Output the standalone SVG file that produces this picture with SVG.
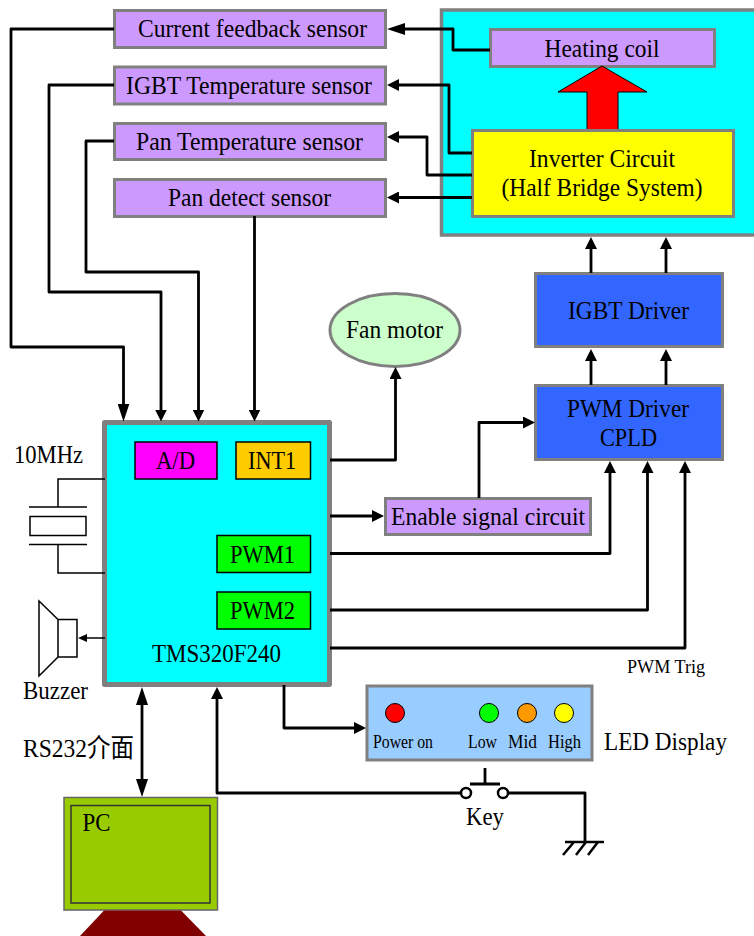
<svg xmlns="http://www.w3.org/2000/svg" width="754" height="936" viewBox="0 0 754 936">
<style>
text{font-family:"Liberation Serif","Noto Sans CJK TC",serif;fill:#000;text-anchor:middle;font-size:26px}
.s{font-size:18px}
.box{stroke:#808080;stroke-width:3}
.pur{fill:#cc99ff}
.blue{fill:#3366ff}
.in{stroke:#000;stroke-width:1.5}
.w{fill:none;stroke:#000;stroke-width:2.8;stroke-linejoin:round}
.t{fill:none;stroke:#000;stroke-width:1.5}
.led{stroke:#000;stroke-width:1}
</style>
<defs>
<marker id="a" markerUnits="userSpaceOnUse" markerWidth="12" markerHeight="12" refX="4" refY="6" orient="auto-start-reverse"><path d="M0 0L12 6L0 12Z" fill="#000"/></marker>
<marker id="b" markerUnits="userSpaceOnUse" markerWidth="18" markerHeight="12" refX="4" refY="6" orient="auto-start-reverse"><path d="M0 0L18 6L0 12Z" fill="#000"/></marker>
<marker id="c" markerUnits="userSpaceOnUse" markerWidth="10" markerHeight="10" refX="2" refY="5" orient="auto"><path d="M0 1L9 5L0 9Z" fill="#000"/></marker>
</defs>
<g id="power-stage"><rect x="441.5" y="10" width="330" height="225" fill="#00ffff" stroke="#808080" stroke-width="3.5"/></g>
<g id="heating-coil"><rect class="box pur" x="490.5" y="29.5" width="224" height="37"/><text x="602" y="57" textLength="115" lengthAdjust="spacingAndGlyphs">Heating coil</text></g>
<g id="heat-arrow"><path d="M587 131V92H558L602 66L647 92H618V131Z" fill="#ff0000" stroke="#000" stroke-width="1"/></g>
<g id="inverter"><rect class="box" x="472.5" y="130.5" width="261" height="86" fill="#ffff00"/><text x="602" y="167" textLength="146" lengthAdjust="spacingAndGlyphs">Inverter Circuit</text><text x="602" y="196" textLength="201" lengthAdjust="spacingAndGlyphs">(Half Bridge System)</text></g>
<g id="current-sensor"><rect class="box pur" x="114.5" y="10.5" width="271" height="37"/><text x="252.5" y="37" textLength="229" lengthAdjust="spacingAndGlyphs">Current feedback sensor</text></g>
<g id="igbt-sensor"><rect class="box pur" x="114.5" y="67" width="271" height="37"/><text x="249" y="94" textLength="246" lengthAdjust="spacingAndGlyphs">IGBT Temperature sensor</text></g>
<g id="pan-sensor"><rect class="box pur" x="114.5" y="123.5" width="271" height="36"/><text x="249.5" y="150" textLength="227" lengthAdjust="spacingAndGlyphs">Pan Temperature sensor</text></g>
<g id="pan-detect"><rect class="box pur" x="114.5" y="179.5" width="271" height="37"/><text x="249.5" y="206" textLength="163" lengthAdjust="spacingAndGlyphs">Pan detect sensor</text></g>
<g id="igbt-driver"><rect class="box blue" x="535.5" y="273.5" width="187" height="73"/><text x="628.5" y="319" textLength="121" lengthAdjust="spacingAndGlyphs">IGBT Driver</text></g>
<g id="pwm-driver"><rect class="box blue" x="535.5" y="385.5" width="187" height="74"/><text x="628" y="417" textLength="122" lengthAdjust="spacingAndGlyphs">PWM Driver</text><text x="628.5" y="446" textLength="57" lengthAdjust="spacingAndGlyphs">CPLD</text></g>
<g id="fan"><ellipse cx="395" cy="330" rx="65" ry="36.5" fill="#ccffcc" stroke="#808080" stroke-width="3"/><text x="394.5" y="338" textLength="97" lengthAdjust="spacingAndGlyphs">Fan motor</text></g>
<g id="enable"><rect class="box pur" x="385.5" y="498.5" width="205" height="36"/><text x="488" y="525" textLength="194" lengthAdjust="spacingAndGlyphs">Enable signal circuit</text></g>
<g id="mcu"><rect x="104.5" y="422.5" width="225" height="262" fill="#00ffff" stroke="#808080" stroke-width="5" stroke-linejoin="round"/>
<text x="216.5" y="662" textLength="129" lengthAdjust="spacingAndGlyphs">TMS320F240</text></g>
<g id="ad"><rect class="in" x="135" y="442" width="82" height="37" fill="#ff00ff"/><text x="175.5" y="469" textLength="39" lengthAdjust="spacingAndGlyphs">A/D</text></g>
<g id="int1"><rect class="in" x="236" y="442" width="74.500" height="37" fill="#ffcc00"/><text x="272" y="469" textLength="48" lengthAdjust="spacingAndGlyphs">INT1</text></g>
<g id="pwm1"><rect class="in" x="217" y="535.500" width="93.500" height="37" fill="#00ff00"/><text x="262.5" y="563" textLength="65" lengthAdjust="spacingAndGlyphs">PWM1</text></g>
<g id="pwm2"><rect class="in" x="217" y="592" width="93.500" height="37" fill="#00ff00"/><text x="262.5" y="619" textLength="65" lengthAdjust="spacingAndGlyphs">PWM2</text></g>
<g id="crystal"><text x="48.500" y="463" textLength="69" lengthAdjust="spacingAndGlyphs">10MHz</text><rect class="t" x="30" y="516.500" width="56" height="19"/><path class="t" d="M105 479H58V507M29 507H87M29 544.500H87M58 544.500V573H105"/></g>
<g id="buzzer"><path class="t" d="M58 619.500H77V657H58ZM58 619.500L39 601V676L58 657"/><text x="55.500" y="699" textLength="65" lengthAdjust="spacingAndGlyphs">Buzzer</text></g>
<g id="led-display"><rect class="box" x="367" y="686" width="225" height="74" fill="#99ccff"/>
<circle class="led" cx="395" cy="713" r="9.5" fill="#ff0000"/><circle class="led" cx="489" cy="713" r="9.5" fill="#00ff00"/><circle class="led" cx="527" cy="713" r="9.5" fill="#ff9900"/><circle class="led" cx="564" cy="713" r="9.5" fill="#ffff00"/>
<text class="s" x="403" y="748" textLength="60" lengthAdjust="spacingAndGlyphs">Power on</text><text class="s" x="482.500" y="748" textLength="29" lengthAdjust="spacingAndGlyphs">Low</text><text class="s" x="522.500" y="748" textLength="29" lengthAdjust="spacingAndGlyphs">Mid</text><text class="s" x="564.500" y="748" textLength="33" lengthAdjust="spacingAndGlyphs">High</text>
<text x="665.500" y="750" textLength="123" lengthAdjust="spacingAndGlyphs">LED Display</text></g>
<g id="key"><circle cx="466" cy="793" r="5" fill="#fff" stroke="#000" stroke-width="2.5"/><circle cx="503" cy="793" r="5" fill="#fff" stroke="#000" stroke-width="2.5"/><path class="w" d="M470 784H500M485 784V768"/><text x="485" y="825" textLength="38" lengthAdjust="spacingAndGlyphs">Key</text></g>
<g id="ground"><path class="w" d="M508 793H585V842"/><path d="M565 842H604M574 842L563 855M586 842L576 855M598 842L588 855" fill="none" stroke="#000" stroke-width="2.500"/></g>
<g id="pc"><rect x="64" y="797.500" width="153.500" height="112.500" fill="#99cc00" stroke="#666" stroke-width="1.5"/><rect x="71" y="805.500" width="139" height="97.500" fill="none" stroke="#333" stroke-width="1.5"/><text x="96.500" y="831" textLength="28" lengthAdjust="spacingAndGlyphs">PC</text><path d="M104 910.500H181L206 936H80Z" fill="#800000"/></g>
<g id="labels"><text x="78.500" y="757" textLength="111" lengthAdjust="spacingAndGlyphs">RS232介面</text><text class="s" x="666" y="673" textLength="78" lengthAdjust="spacingAndGlyphs">PWM Trig</text></g>
<g id="connectors">
<path class="w" marker-end="url(#b)" d="M114 29H11V347H123.500V407.500"/>
<path class="w" marker-end="url(#a)" d="M114 85H49V292H161V413.500"/>
<path class="w" marker-end="url(#a)" d="M114 141H86V272H198.500V413.500"/>
<path class="w" marker-end="url(#a)" d="M254.500 216V413.500"/>
<path class="w" marker-end="url(#b)" d="M490 50H453V29H401"/>
<path class="w" marker-end="url(#a)" d="M472 153H449V85H395"/>
<path class="w" marker-end="url(#a)" d="M472 175H427V137H395"/>
<path class="w" marker-end="url(#a)" d="M472 197.500H395"/>
<path class="w" marker-end="url(#a)" d="M591 273V245"/>
<path class="w" marker-end="url(#a)" d="M666 273V245"/>
<path class="w" marker-end="url(#a)" d="M591 385V357"/>
<path class="w" marker-end="url(#a)" d="M666 385V357"/>
<path class="w" marker-end="url(#a)" d="M330 460H395.500V375"/>
<path class="w" marker-end="url(#a)" d="M330 516H376"/>
<path class="w" marker-end="url(#a)" d="M479 498V422.500H527"/>
<path class="w" marker-end="url(#a)" d="M330 553.500H610V469"/>
<path class="w" marker-end="url(#a)" d="M330 610H647.500V469"/>
<path class="w" marker-end="url(#a)" d="M330 648H685V469"/>
<path class="t" marker-end="url(#c)" d="M105 638H85"/>
<path class="w" marker-end="url(#a)" d="M284 685V728H358"/>
<path class="w" marker-start="url(#b)" marker-end="url(#b)" d="M142 701V783"/>
<path class="w" marker-end="url(#a)" d="M461 793H217V695"/>
</g>
</svg>
